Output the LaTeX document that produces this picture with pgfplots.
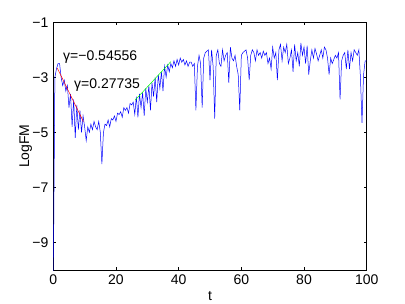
\documentclass[border=0pt]{standalone}
\usepackage{fontspec}
\setmainfont{Liberation Sans}
\usepackage{pgfplots}
\pgfplotsset{compat=1.18}
\begin{document}
\fontsize{14bp}{17bp}\selectfont
\begin{tikzpicture}[font=\fontsize{14bp}{17bp}\selectfont]
\useasboundingbox (0,0) rectangle (405bp,304bp);
\begin{axis}[
  at={(53.3bp,34bp)}, anchor=south west,
  scale only axis, width=313.4bp, height=247.7bp,
  xmin=0, xmax=100, ymin=-10, ymax=-1,
  xtick={0,20,40,60,80,100}, xticklabels={0,20,40,60,80,100},
  ytick={-9,-7,-5,-3,-1}, yticklabels={−9,−7,−5,−3,−1},
  tick align=inside, major tick length=3bp,
  tick style={black, line width=0.5bp},
  axis line style={black, line width=0.5bp},
  xlabel={t}, ylabel={LogFM},
  xlabel style={at={(axis description cs:0.5,0)}, anchor=base, yshift=-30bp},
  ylabel style={at={(axis description cs:-0.0775,0.5)}, anchor=base, rotate=0},
  clip=true,
]
\addplot[blue, line width=0.5bp] coordinates {
(0,-10.5) (0.5,-3.0) (1,-2.7) (1.5,-2.5) (2,-2.5) (2.5,-3.0) (3,-3.3) (3.5,-3.1) (4,-3.5) (4.5,-3.3)
(5,-4.1) (5.5,-3.6) (6,-4.8) (6.5,-3.8) (7,-5.2) (7.5,-4.0) (8,-4.9) (8.5,-4.2) (9,-5.0) (9.5,-4.4)
(10,-4.8) (10.5,-5.3) (11,-4.8) (11.5,-5.0) (12,-4.7) (12.5,-4.9) (13,-4.6) (13.5,-4.8) (14,-4.9) (14.5,-4.6)
(15,-5.0) (15.5,-6.15) (16,-5.0) (16.5,-4.7) (17,-4.75) (17.5,-4.55) (18,-4.8) (18.5,-4.5) (19,-4.55) (19.5,-4.4)
(20,-4.6) (20.5,-4.3) (21,-4.35) (21.5,-4.25) (22,-4.45) (22.5,-4.1) (23,-4.2) (23.5,-4.1) (24,-4.3) (24.5,-3.95)
(25,-4.0) (25.5,-3.9) (26,-4.35) (26.5,-3.7) (27,-4.45) (27.5,-3.6) (28,-4.1) (28.5,-3.55) (29,-4.4) (29.5,-3.4)
(30,-3.9) (30.5,-3.3) (31,-4.2) (31.5,-3.2) (32,-3.7) (32.5,-3.0) (33,-3.9) (33.5,-2.9) (34,-3.4) (34.5,-2.8)
(35,-3.5) (35.5,-2.6) (36,-3.0) (36.5,-2.55) (37,-2.8) (37.5,-2.5) (38,-2.65) (38.5,-2.4) (39,-2.6) (39.5,-2.35)
(40,-2.55) (40.5,-2.3) (41,-2.45) (41.5,-2.35) (42,-2.55) (42.5,-2.4) (43,-2.6) (43.5,-2.45) (44,-2.45) (44.5,-2.6)
(45,-2.5) (45.5,-4.2) (46,-2.6) (46.5,-2.2) (47,-2.5) (47.5,-4.1) (48,-2.3) (48.5,-2.1) (49,-2.05) (49.5,-2.0)
(50,-3.1) (50.5,-2.0) (51,-2.6) (51.5,-4.5) (52,-2.2) (52.5,-2.0) (53,-2.5) (53.5,-2.6) (54,-2.0) (54.5,-2.4)
(55,-2.2) (55.5,-2.1) (56,-3.2) (56.5,-1.9) (57,-2.3) (57.5,-2.4) (58,-2.2) (58.5,-2.6) (59,-2.9) (59.5,-4.2)
(60,-2.2) (60.5,-2.1) (61,-2.05) (61.5,-2.0) (62,-2.3) (62.5,-3.1) (63,-2.2) (63.5,-2.0) (64,-2.1) (64.5,-2.4)
(65,-2.0) (65.5,-2.2) (66,-2.1) (66.5,-2.3) (67,-2.05) (67.5,-2.2) (68,-2.1) (68.5,-2.5) (69,-2.3) (69.5,-2.7)
(70,-1.9) (70.5,-2.3) (71,-2.1) (71.5,-3.1) (72,-2.0) (72.5,-1.8) (73,-2.4) (73.5,-1.9) (74,-2.1) (74.5,-1.8)
(75,-2.5) (75.5,-2.3) (76,-2.0) (76.5,-2.8) (77,-1.8) (77.5,-2.4) (78,-2.1) (78.5,-2.6) (79,-1.75) (79.5,-2.2)
(80,-1.9) (80.5,-2.5) (81,-1.85) (81.5,-2.9) (82,-2.4) (82.5,-2.0) (83,-2.3) (83.5,-1.95) (84,-2.15) (84.5,-2.4)
(85,-2.2) (85.5,-2.0) (86,-2.3) (86.5,-1.9) (87,-2.0) (87.5,-2.3) (88,-2.9) (88.5,-2.3) (89,-2.5) (89.5,-2.35)
(90,-2.2) (90.5,-2.3) (91,-2.1) (91.5,-3.8) (92,-2.4) (92.5,-2.2) (93,-2.1) (93.5,-2.7) (94,-2.0) (94.5,-2.7)
(95,-2.1) (95.5,-2.4) (96,-2.0) (96.5,-2.1) (97,-2.2) (97.5,-2.0) (98,-3.0) (98.5,-4.65) (99,-2.9) (99.5,-2.4)
(100,-2.4)
};
\addplot[red, line width=0.5bp] coordinates {(1.3,-2.67) (9.6,-4.61)};
\addplot[green, line width=0.5bp] coordinates {(26.1,-3.83) (37.5,-2.43)};
\node[anchor=west, inner sep=0pt] at (axis cs:3.1,-2.26) {γ=−0.54556};
\node[anchor=west, inner sep=0pt] at (axis cs:6.6,-3.28) {γ=0.27735};
\end{axis}
\end{tikzpicture}
\end{document}
